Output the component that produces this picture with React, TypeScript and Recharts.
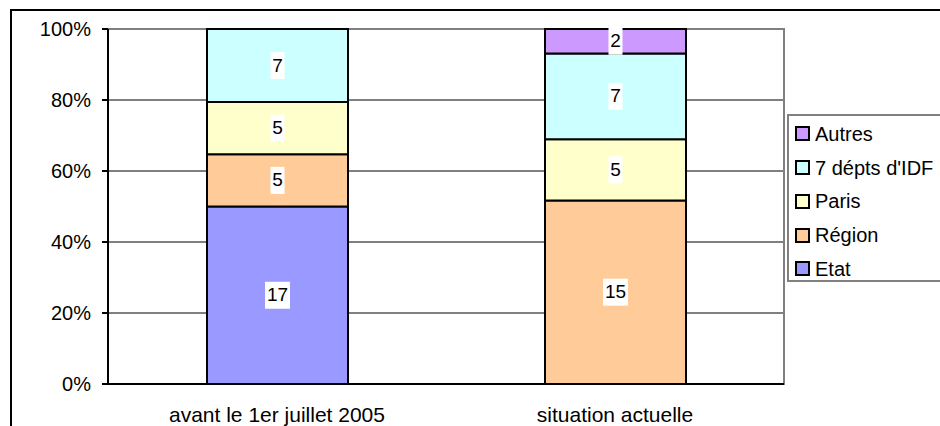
import React from 'react';
import { BarChart, Bar, XAxis, YAxis, CartesianGrid, LabelList, ReferenceArea } from 'recharts';

const categories = ['avant le 1er juillet 2005', 'situation actuelle'];
const etat = [17, 0];
const region = [5, 15];
const paris = [5, 5];
const depts = [7, 7];
const autres = [0, 2];
const yTicks = [0, 0.2, 0.4, 0.6, 0.8, 1];

const series = [
  { key: 'etat', name: 'Etat', color: '#9999FF', values: etat },
  { key: 'region', name: 'Région', color: '#FFCC99', values: region },
  { key: 'paris', name: 'Paris', color: '#FFFFCC', values: paris },
  { key: 'depts', name: "7 dépts d'IDF", color: '#CCFFFF', values: depts },
  { key: 'autres', name: 'Autres', color: '#CC99FF', values: autres },
];

const data = categories.map((cat, i) => {
  const row: any = { cat };
  series.forEach((s) => {
    row[s.key] = s.values[i];
  });
  return row;
});

const FONT = '"Liberation Sans", Arial, sans-serif';

const BoxLabel = (props: any) => {
  const { x, y, width, height, value } = props;
  if (!value) return null;
  const txt = String(value);
  const w = txt.length * 11 + 3;
  const h = 27;
  const cx = x + width / 2;
  const cy = y + height / 2;
  return (
    <g>
      <rect x={cx - w / 2} y={cy - h / 2} width={w} height={h} fill="#fff" />
      <text x={cx} y={cy + 1} textAnchor="middle" dominantBaseline="middle" fontSize={19} fontFamily={FONT} fill="#000">
        {txt}
      </text>
    </g>
  );
};

// legend drawn as a plain box beside the plot, like the Excel one
const LegendBox = () => (
  <div
    style={{
      position: 'absolute',
      left: 787,
      top: 114,
      border: '2px solid #808080',
      background: '#fff',
      width: 200,
      height: 168,
      boxSizing: 'border-box',
      paddingTop: 1,
      fontFamily: FONT,
      fontSize: 20,
    }}
  >
    {[...series].reverse().map((s) => (
      <div key={s.key} style={{ display: 'flex', alignItems: 'center', height: 33.75, paddingLeft: 6 }}>
        <span
          style={{
            display: 'inline-block',
            width: 11,
            height: 11,
            background: s.color,
            border: '2px solid #000',
            marginRight: 5,
          }}
        />
        <span style={{ color: '#000', lineHeight: '20px' }}>{s.name}</span>
      </div>
    ))}
  </div>
);

export default function App() {
  return (
    <div style={{ position: 'absolute', left: 0, top: 0, width: 940, height: 426, overflow: 'hidden', background: '#fff' }}>
      <div
        style={{
          position: 'absolute',
          left: 10,
          top: 9,
          width: 1000,
          height: 500,
          border: '2px solid #000',
        }}
      />
      <div style={{ position: 'absolute', left: 0, top: 0 }}>
        <BarChart
          width={940}
          height={426}
          data={data}
          stackOffset="expand"
          margin={{ top: 29, right: 156, left: 48, bottom: 0 }}
        >
          <CartesianGrid horizontal vertical={false} stroke="#000" strokeWidth={1} />
          <ReferenceArea y1={0} y2={1} fill="none" stroke="#808080" strokeWidth={2} ifOverflow="visible" />
          <XAxis
            dataKey="cat"
            height={42}
            stroke="#000"
            strokeWidth={2}
            tickLine={false}
            tickSize={0}
            tickMargin={23}
            tick={{ fill: '#000', fontSize: 21, fontFamily: FONT }}
          />
          <YAxis
            width={60}
            domain={[0, 1]}
            ticks={yTicks}
            interval={0}
            stroke="#000"
            strokeWidth={2}
            tickSize={6}
            tickMargin={11}
            tickFormatter={(v: number) => `${Math.round(v * 100)}%`}
            tick={{ fill: '#000', fontSize: 20, fontFamily: FONT }}
          />
          {series.map((s) => (
            <Bar
              key={s.key}
              dataKey={s.key}
              name={s.name}
              stackId="a"
              fill={s.color}
              stroke="#000"
              strokeWidth={2}
              barSize={141}
              isAnimationActive={false}
            >
              <LabelList dataKey={s.key} content={<BoxLabel />} />
            </Bar>
          ))}
        </BarChart>
      </div>
      <LegendBox />
    </div>
  );
}
